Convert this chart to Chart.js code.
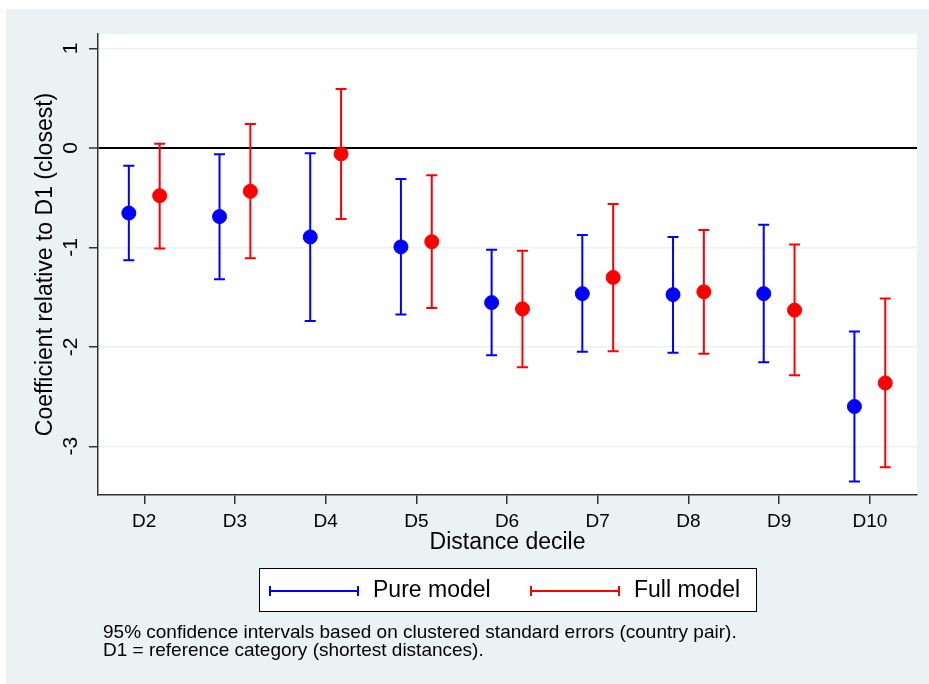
<!DOCTYPE html>
<html>
<head>
<meta charset="utf-8">
<title>Distance decile coefficients</title>
<script src="https://cdn.jsdelivr.net/npm/chart.js@4.4.1/dist/chart.umd.min.js"></script>
<style>
  html,body{margin:0;padding:0;background:#fff;}
  #wrap{width:929px;height:684px;}
</style>
</head>
<body>
<div id="wrap"><canvas id="chart" width="929" height="684"></canvas></div>
<script>
// ===================== DATA =====================
const deciles=['D2','D3','D4','D5','D6','D7','D8','D9','D10'];
const decileX=[2,3,4,5,6,7,8,9,10];
// Pure model: point estimate + 95% CI
const pureCoef=[-0.655,-0.69,-0.895,-0.995,-1.555,-1.465,-1.475,-1.465,-2.60];
const pureLo=[-1.13,-1.32,-1.74,-1.675,-2.085,-2.05,-2.06,-2.155,-3.355];
const pureHi=[-0.18,-0.064,-0.054,-0.312,-1.024,-0.876,-0.896,-0.772,-1.846];
// Full model
const fullCoef=[-0.48,-0.436,-0.06,-0.943,-1.618,-1.302,-1.447,-1.631,-2.363];
const fullLo=[-1.01,-1.11,-0.715,-1.61,-2.205,-2.044,-2.07,-2.286,-3.212];
const fullHi=[0.043,0.24,0.594,-0.275,-1.034,-0.564,-0.826,-0.97,-1.514];
const yTicks=[1,0,-1,-2,-3];
const seriesNames=['Pure model','Full model'];
const footnotes=['95% confidence intervals based on clustered standard errors (country pair).',
                 'D1 = reference category (shortest distances).'];

// ===================== STYLE =====================
const BG='#eaf2f3', BLUE='#0000ff', RED='#ff0000', AXIS='#333';
const FONT='Arial, "Liberation Sans", sans-serif';
const SHIFT=0.17;

const mkPts=(coef,d)=>coef.map((v,i)=>({x:decileX[i]+d,y:v}));

// background panels
const bgPlugin={id:'bg',beforeDraw(c){
  const ctx=c.ctx,a=c.chartArea;
  ctx.save();
  ctx.fillStyle='#fff';ctx.fillRect(0,0,c.width,c.height);
  ctx.fillStyle=BG;ctx.fillRect(6,9,c.width-6,c.height-9);
  ctx.fillStyle='#fff';ctx.fillRect(a.left,a.top,a.right-a.left,a.bottom-a.top);
  ctx.restore();
}};

// capped error bars from lo/hi arrays
const errPlugin={id:'errbars',beforeDatasetsDraw(c){
  const ctx=c.ctx,xs=c.scales.x,ys=c.scales.y;
  const sets=[[pureLo,pureHi,-SHIFT,BLUE],[fullLo,fullHi,SHIFT,RED]];
  ctx.save();ctx.lineWidth=2;
  sets.forEach(([lo,hi,d,col])=>{
    ctx.strokeStyle=col;
    decileX.forEach((xv,i)=>{
      const px=xs.getPixelForValue(xv+d),p1=ys.getPixelForValue(lo[i]),p2=ys.getPixelForValue(hi[i]);
      ctx.beginPath();
      ctx.moveTo(px,p1);ctx.lineTo(px,p2);
      ctx.moveTo(px-5.5,p1);ctx.lineTo(px+5.5,p1);
      ctx.moveTo(px-5.5,p2);ctx.lineTo(px+5.5,p2);
      ctx.stroke();
    });
  });
  ctx.restore();
}};

// rotated y tick labels, legend box, footnotes
const decoPlugin={id:'deco',afterDraw(c){
  const ctx=c.ctx,ys=c.scales.y;
  ctx.save();
  ctx.fillStyle='#000';ctx.font='21px '+FONT;
  ctx.textAlign='center';ctx.textBaseline='middle';
  yTicks.forEach(v=>{
    ctx.save();ctx.translate(71,ys.getPixelForValue(v));ctx.rotate(-Math.PI/2);
    ctx.fillText(String(v),0,0);ctx.restore();
  });
  // legend
  ctx.fillStyle='#fff';ctx.fillRect(259.5,568.5,497,43);
  ctx.strokeStyle='#000';ctx.lineWidth=1;ctx.strokeRect(259.5,568.5,497,43);
  const items=[[270,BLUE,seriesNames[0]],[531,RED,seriesNames[1]]];
  ctx.lineWidth=2;ctx.textAlign='left';ctx.font='23px '+FONT;
  items.forEach(([x0,col,txt])=>{
    const y=591;
    ctx.strokeStyle=col;ctx.beginPath();
    ctx.moveTo(x0,y);ctx.lineTo(x0+88,y);
    ctx.moveTo(x0,y-5);ctx.lineTo(x0,y+5);
    ctx.moveTo(x0+88,y-5);ctx.lineTo(x0+88,y+5);
    ctx.stroke();
    ctx.fillStyle='#000';ctx.fillText(txt,x0+103,y);
  });
  ctx.font='19px '+FONT;
  footnotes.forEach((t,i)=>ctx.fillText(t,103,633+i*18));
  ctx.restore();
}};

new Chart(document.getElementById('chart'),{
  type:'scatter',
  data:{datasets:[
    {label:seriesNames[0],data:mkPts(pureCoef,-SHIFT),backgroundColor:BLUE,borderColor:BLUE,pointRadius:7,pointHoverRadius:7},
    {label:seriesNames[1],data:mkPts(fullCoef,SHIFT),backgroundColor:RED,borderColor:RED,pointRadius:7,pointHoverRadius:7}
  ]},
  options:{
    responsive:false,animation:false,
    layout:{padding:{top:34,right:12,bottom:128,left:0}},
    plugins:{legend:{display:false},tooltip:{enabled:false}},
    scales:{
      x:{type:'linear',min:1.49,max:10.52,
        afterBuildTicks:s=>{s.ticks=decileX.map(v=>({value:v}));},
        afterFit:s=>{s.height=61;},
        grid:{drawOnChartArea:false,drawTicks:true,tickLength:9,tickColor:AXIS,lineWidth:1.5},
        border:{color:AXIS,width:1.5},
        ticks:{padding:6,color:'#000',font:{family:FONT,size:19},callback:v=>deciles[decileX.indexOf(v)]},
        title:{display:true,text:'Distance decile',color:'#000',font:{family:FONT,size:23},padding:{top:0,bottom:0}}
      },
      y:{type:'linear',min:-3.49,max:1.146,
        afterBuildTicks:s=>{s.ticks=yTicks.map(v=>({value:v}));},
        afterFit:s=>{s.width=98;},
        grid:{color:ctx=>ctx.tick&&ctx.tick.value===0?'#000':BG,lineWidth:ctx=>ctx.tick&&ctx.tick.value===0?2:1.5,
              drawTicks:true,tickLength:9,tickColor:AXIS,tickWidth:1.5},
        border:{color:AXIS,width:1.5},
        ticks:{display:false},
        title:{display:true,text:'Coefficient relative to D1 (closest)',color:'#000',font:{family:FONT,size:23},padding:{top:32,bottom:0}}
      }
    }
  },
  plugins:[bgPlugin,errPlugin,decoPlugin]
});
</script>
</body>
</html>
